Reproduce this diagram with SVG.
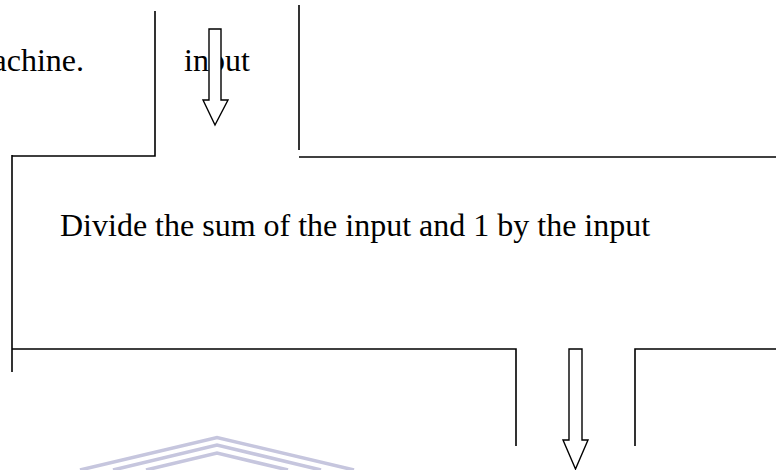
<svg xmlns="http://www.w3.org/2000/svg" width="776" height="470" viewBox="0 0 776 470">
  <style>
    .ln { fill: none; stroke: #000; stroke-width: 1.6; }
    .arr { fill: #fff; stroke: #000; stroke-width: 1.4; stroke-linejoin: miter; }
    .tx { font-family: "Liberation Serif", "Times New Roman", serif; font-size: 32px; fill: #000; }
    .wm { fill: none; stroke: #c6c6de; stroke-width: 3.5; stroke-linecap: butt; }
  </style>
  <rect width="776" height="470" fill="#fff"/>
  <g id="watermark">
    <polyline class="wm" points="80,470 217,437.5 354,470"/>
    <polyline class="wm" points="113,470 217,445 321,470"/>
    <polyline class="wm" points="146,470 217,453 288,470"/>
  </g>
  <g id="previous-machine">
    <text class="tx" x="84" y="71" text-anchor="end">achine.</text>
    <path class="ln" d="M155,11 V156 H12"/>
  </g>
  <g id="input-label">
    <text class="tx" x="184" y="71">input</text>
  </g>
  <g id="machine">
    <path class="ln" d="M299,5 V150"/>
    <path class="ln" d="M299,157 H776"/>
    <path class="ln" d="M12,155 V372"/>
    <path class="ln" d="M12,349 H516 V446"/>
    <path class="ln" d="M776,349 H635 V446"/>
    <text class="tx" x="60" y="236">Divide the sum of the input and 1 by the input</text>
  </g>
  <g id="connectors">
    <polygon class="arr" points="209,29 221,29 221,100 228,100 215,125 203,100 209,100"/>
    <polygon class="arr" points="569,349 582,349 582,440 588,440 575.5,469 563,440 569,440"/>
  </g>
</svg>
